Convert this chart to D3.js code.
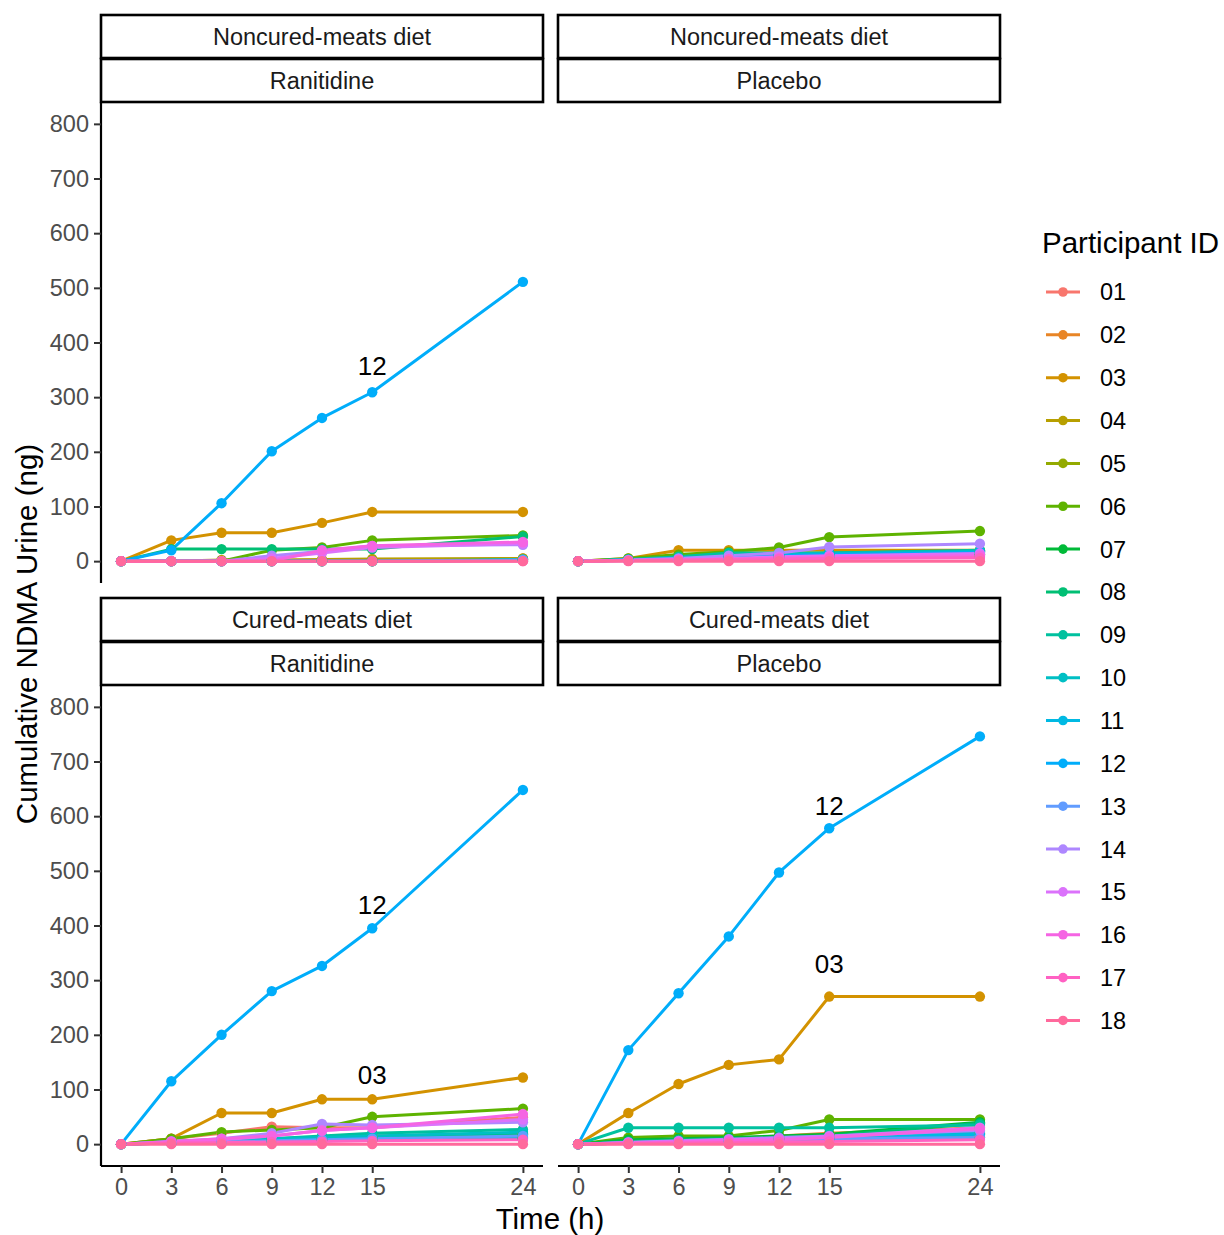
<!DOCTYPE html>
<html><head><meta charset="utf-8">
<script src="https://cdn.jsdelivr.net/npm/d3@7"></script>
<style>body{margin:0;background:#fff}svg{display:block;font-family:"Liberation Sans",Arial,sans-serif}</style>
</head><body><svg id="c" width="1224" height="1235"></svg>
<script>
const times = [0, 3, 6, 9, 12, 15, 24];
const ids = ["01","02","03","04","05","06","07","08","09","10","11","12","13","14","15","16","17","18"];
const yTicks = [0,100,200,300,400,500,600,700,800];
const diets = ["Noncured-meats diet","Cured-meats diet"];
const treatments = ["Ranitidine","Placebo"];

// Noncured-meats diet, Ranitidine
const ncRan = [
 [0,0,0,0,0,0,2],[0,0,0,0,0,0,5],[0,38,52,52,70,90,90],[0,0,2,2,3,4,5],
 [0,0,0,0,0,0,3],[0,0,0,20,25,38,47],[0,0,0,0,0,0,2],[0,22,22,22,22,22,45],
 [0,0,0,0,0,0,2],[0,0,0,0,0,0,3],[0,0,0,0,0,0,2],[0,20,106,201,262,309,511],
 [0,0,0,0,0,0,2],[0,0,0,10,18,28,30],[0,0,0,5,15,25,32],[0,0,0,0,20,28,35],
 [0,0,0,0,0,0,0],[0,0,0,0,0,0,0]];
// Noncured-meats diet, Placebo
const ncPla = [
 [0,2,3,5,5,6,8],[0,2,5,8,10,10,12],[0,5,20,20,20,20,20],[0,2,4,5,6,8,10],
 [0,2,3,5,8,10,12],[0,5,12,17,25,44,55],[0,2,5,8,10,12,15],[0,3,5,10,12,15,18],
 [0,3,8,15,15,15,20],[0,2,5,10,12,14,18],[0,2,4,6,8,10,12],[0,2,5,8,10,12,16],
 [0,1,3,5,6,8,10],[0,2,5,10,15,26,32],[0,1,3,5,8,10,14],[0,1,2,4,6,8,10],
 [0,1,2,3,4,5,6],[0,0,0,0,0,0,0]];
// Cured-meats diet, Ranitidine
const cRan = [
 [0,10,20,32,30,30,49],[0,5,8,10,12,15,20],[0,10,57,57,82,82,122],[0,3,5,6,8,10,12],
 [0,3,5,8,10,12,15],[0,10,22,26,30,50,65],[0,2,4,5,6,8,10],[0,3,6,8,10,12,18],
 [0,5,8,10,15,20,27],[0,3,6,10,12,15,22],[0,2,4,6,8,10,10],[0,115,200,280,326,395,648],
 [0,2,4,6,8,10,15],[0,5,10,20,37,35,40],[0,4,8,15,25,30,45],[0,5,10,15,25,30,55],
 [0,2,3,4,5,6,8],[0,0,0,0,0,0,0]];
// Cured-meats diet, Placebo
const cPla = [
 [0,3,5,8,10,12,15],[0,5,8,10,15,20,30],[0,57,110,145,155,270,270],[0,3,5,8,10,12,20],
 [0,2,4,6,8,10,12],[0,12,15,15,25,45,45],[0,8,10,12,15,18,40],[0,5,8,10,12,15,38],
 [0,30,30,30,30,30,35],[0,3,5,8,10,12,22],[0,2,4,6,8,10,18],[0,172,276,380,497,578,746],
 [0,2,4,6,8,10,12],[0,3,6,9,12,15,25],[0,3,5,8,10,14,30],[0,2,4,6,8,12,28],
 [0,1,2,3,4,5,8],[0,0,0,0,0,0,0]];

// text labels (facet index, label, time, value)
const labelFacet = [0, 2, 2, 3, 3];
const labelText  = ["12","12","03","12","03"];
const labelTime  = [15, 15, 15, 15, 15];
const labelValue = [357, 438, 128, 619, 330];

// ggplot2 hue palette (polarLUV)
function hcl2hex(h, c, l) {
  const hr = h * Math.PI / 180, U = c * Math.cos(hr), V = c * Math.sin(hr);
  const Xn = 95.047, Yn = 100, Zn = 108.883;
  const Y = l > 7.999592 ? Yn * Math.pow((l + 16) / 116, 3) : Yn * l / 903.3;
  const t = Xn + Yn + Zn, x = Xn / t, y = Yn / t;
  const uN = 2 * x / (6 * y - x + 1.5), vN = 4.5 * y / (6 * y - x + 1.5);
  const u = U / (13 * l) + uN, v = V / (13 * l) + vN;
  const X = 9 * Y * u / (4 * v), Z = -X / 3 - 5 * Y + 3 * Y / v;
  const g = q => { q = q > 0.00304 ? 1.055 * Math.pow(q, 1 / 2.4) - 0.055 : 12.92 * q; return Math.round(255 * Math.max(0, Math.min(1, q))); };
  return d3.rgb(g((3.240479 * X - 1.537150 * Y - 0.498535 * Z) / Yn),
                g((-0.969256 * X + 1.875992 * Y + 0.041556 * Z) / Yn),
                g((0.055648 * X - 0.204043 * Y + 1.057311 * Z) / Yn)).formatHex();
}
const colors = ids.map((d, i) => hcl2hex(15 + i * 360 / ids.length, 100, 65));
const color = d3.scaleOrdinal().domain(ids).range(colors);

const svg = d3.select("#c");
const facets = [
  {diet: diets[0], trt: treatments[0], data: ncRan, col: 0, row: 0},
  {diet: diets[0], trt: treatments[1], data: ncPla, col: 1, row: 0},
  {diet: diets[1], trt: treatments[0], data: cRan, col: 0, row: 1},
  {diet: diets[1], trt: treatments[1], data: cPla, col: 1, row: 1}
];
const panelX = [101, 558], panelW = 442;
const panelY = [102, 685], panelH = 481;
const stripH = 43;
const LW = 3, PR = 5.2;

facets.forEach((f, fi) => {
  const x0 = panelX[f.col], y0 = panelY[f.row];
  const x = d3.scaleLinear().domain([-1.2, 25.2]).range([x0, x0 + panelW]);
  const y = d3.scaleLinear().domain([-40, 840]).range([y0 + panelH, y0]);
  const g = svg.append("g");

  // strips
  [f.diet, f.trt].forEach((s, si) => {
    const sy = y0 - 2 * stripH - 1 + si * (stripH + 1);
    g.append("rect").attr("x", x0).attr("y", sy).attr("width", panelW).attr("height", stripH)
      .attr("fill", "#fff").attr("stroke", "#000").attr("stroke-width", 2.6);
    g.append("text").attr("x", x0 + panelW / 2).attr("y", sy + stripH / 2).attr("dy", "0.36em")
      .attr("text-anchor", "middle").attr("font-size", 23.5).attr("fill", "#1A1A1A").text(s);
  });

  const line = d3.line().x((d, i) => x(times[i])).y(d => y(d));
  const pg = g.append("g");
  f.data.forEach((vals, i) => {
    pg.append("path").attr("d", line(vals)).attr("fill", "none")
      .attr("stroke", color(ids[i])).attr("stroke-width", LW).attr("stroke-linejoin", "round");
  });
  f.data.forEach((vals, i) => {
    pg.selectAll(null).data(vals).enter().append("circle")
      .attr("cx", (d, j) => x(times[j])).attr("cy", d => y(d)).attr("r", PR)
      .attr("fill", color(ids[i]));
  });

  labelFacet.forEach((lf, li) => {
    if (lf !== fi) return;
    g.append("text").attr("x", x(labelTime[li])).attr("y", y(labelValue[li])).attr("dy", "0.36em")
      .attr("text-anchor", "middle").attr("font-size", 26).attr("fill", "#000").text(labelText[li]);
  });

  if (f.col === 0) {
    const ax = g.append("g").attr("transform", `translate(${x0},0)`)
      .call(d3.axisLeft(y).tickValues(yTicks).tickSize(7).tickPadding(5));
    ax.select(".domain").attr("stroke-width", 2.2).attr("d", `M0,${y0 + panelH}V${y0}`);
    ax.selectAll(".tick line").attr("stroke-width", 2).attr("stroke", "#333");
    ax.selectAll(".tick text").attr("font-size", 23.5).attr("fill", "#4D4D4D")
      .attr("font-family", "Liberation Sans, Arial, sans-serif");
  }
  if (f.row === 1) {
    const ax = g.append("g").attr("transform", `translate(0,${y0 + panelH})`)
      .call(d3.axisBottom(x).tickValues(times).tickSize(7).tickPadding(5));
    ax.select(".domain").attr("stroke-width", 2.2).attr("d", `M${x0},0H${x0 + panelW}`);
    ax.selectAll(".tick line").attr("stroke-width", 2).attr("stroke", "#333");
    ax.selectAll(".tick text").attr("font-size", 23.5).attr("fill", "#4D4D4D")
      .attr("font-family", "Liberation Sans, Arial, sans-serif");
  }
});

// axis titles
svg.append("text").attr("x", 550).attr("y", 1229).attr("text-anchor", "middle")
  .attr("font-size", 29.5).attr("fill", "#000").text("Time (h)");
svg.append("text").attr("transform", "translate(37,634) rotate(-90)").attr("text-anchor", "middle")
  .attr("font-size", 29.5).attr("fill", "#000").text("Cumulative NDMA Urine (ng)");

// legend
const lg = svg.append("g");
lg.append("text").attr("x", 1042).attr("y", 253).attr("font-size", 29.5).attr("fill", "#000").text("Participant ID");
ids.forEach((id, i) => {
  const ly = 292 + i * 42.85;
  lg.append("line").attr("x1", 1046).attr("x2", 1080).attr("y1", ly).attr("y2", ly)
    .attr("stroke", color(id)).attr("stroke-width", LW);
  lg.append("circle").attr("cx", 1063).attr("cy", ly).attr("r", 4.8).attr("fill", color(id));
  lg.append("text").attr("x", 1100).attr("y", ly).attr("dy", "0.36em").attr("font-size", 23.5)
    .attr("fill", "#000").text(id);
});
</script></body></html>
